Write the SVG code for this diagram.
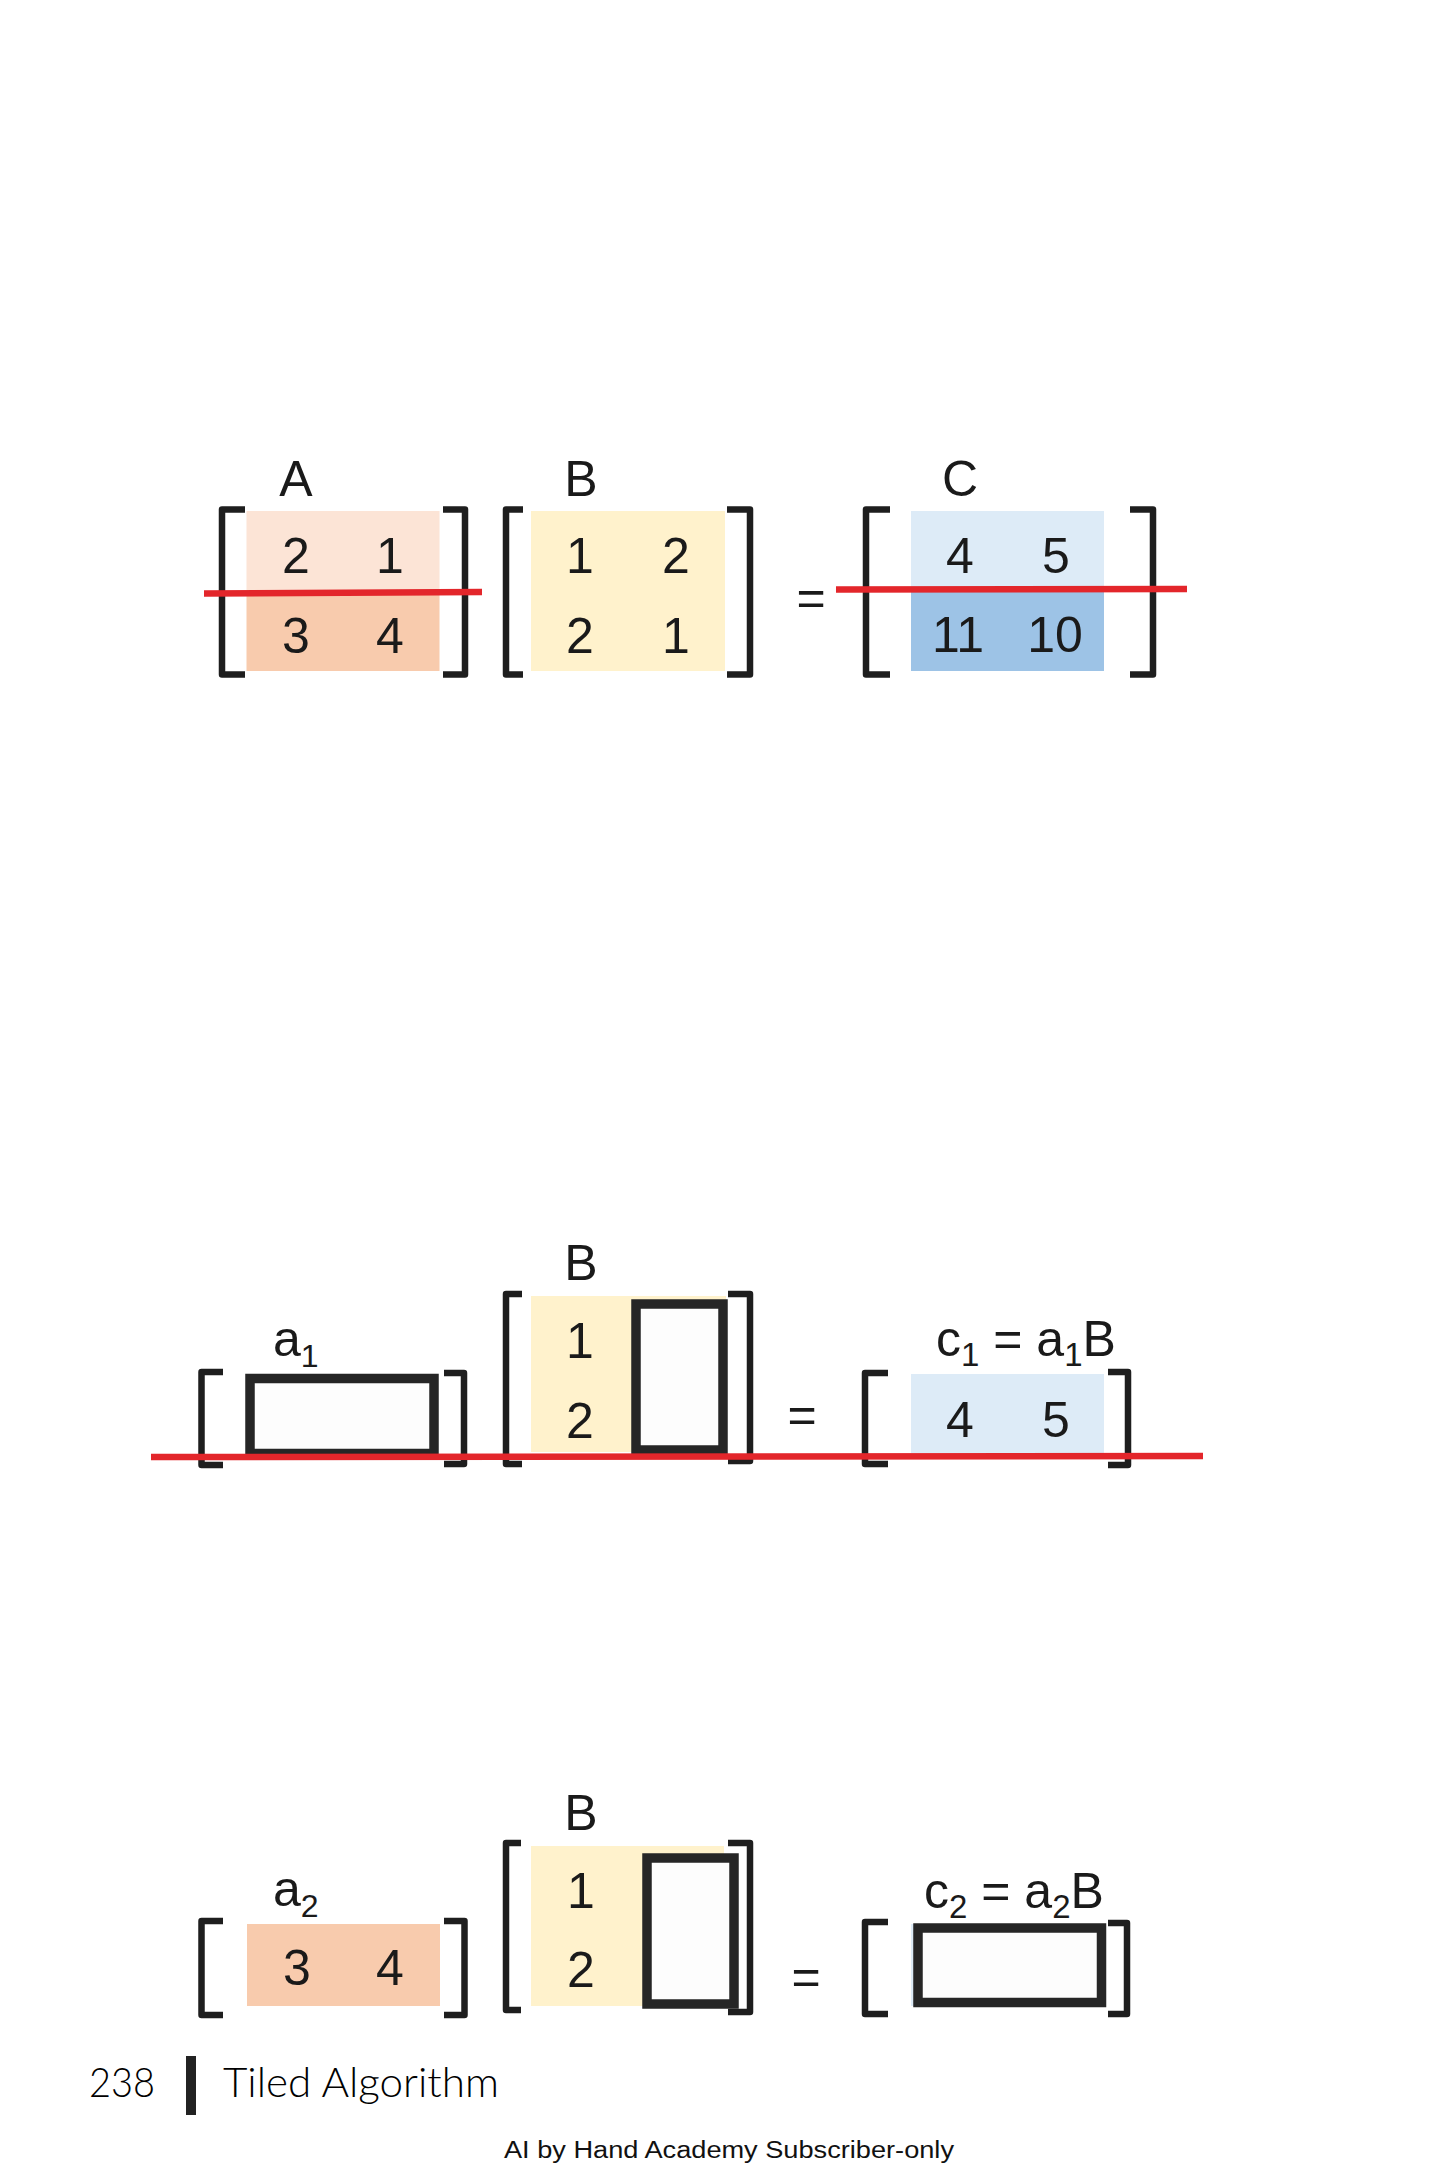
<svg xmlns="http://www.w3.org/2000/svg" width="1456" height="2184" viewBox="0 0 1456 2184">
<style>
.br{fill:none;stroke:#1e1e1e;stroke-width:6.5;stroke-linejoin:round;stroke-linecap:butt}
.num{font-family:"Liberation Sans",Arial,sans-serif;font-size:50px;fill:#1a1a1a;text-anchor:middle}
.lbl{font-family:"Liberation Sans",Arial,sans-serif;font-size:50px;fill:#1a1a1a;text-anchor:middle}
.vec{font-family:"Liberation Sans",Arial,sans-serif;font-size:50px;fill:#1a1a1a}
.box{fill:#fdfdfd;stroke:#262626;stroke-width:9.5}
.red{stroke:#e3262b;stroke-width:6.5;fill:none}
.foot{font-family:Lato,"Open Sans",sans-serif;font-weight:300;font-size:42px;fill:#000}
</style>
<rect width="1456" height="2184" fill="#ffffff"/>

<!-- Section 1 -->
<g id="matA">
<rect x="246.5" y="511" width="193" height="79.5" fill="#fce4d6"/>
<rect x="246.5" y="590.5" width="193" height="80.5" fill="#f8cbad"/>
<path class="br" d="M245,509.5 H222 V674.5 H245"/>
<path class="br" d="M443,509.5 H465 V674.5 H443"/>
<text class="lbl" x="296" y="496">A</text>
<text class="num" x="296" y="573">2</text>
<text class="num" x="390" y="573">1</text>
<text class="num" x="296" y="653">3</text>
<text class="num" x="390" y="653">4</text>
</g>
<g id="matB1">
<rect x="531" y="511" width="194" height="160" fill="#fff2cc"/>
<path class="br" d="M523,509.5 H506 V674.5 H523"/>
<path class="br" d="M727,509.5 H750 V674.5 H727"/>
<text class="lbl" x="581" y="496">B</text>
<text class="num" x="580" y="573">1</text>
<text class="num" x="676" y="573">2</text>
<text class="num" x="580" y="653">2</text>
<text class="num" x="676" y="653">1</text>
</g>
<g id="eq1"><text class="num" x="811" y="615">=</text></g>
<g id="matC">
<rect x="911" y="511" width="193" height="78" fill="#ddebf7"/>
<rect x="911" y="589" width="193" height="82" fill="#9dc3e6"/>
<path class="br" d="M890,509.5 H866 V674.5 H890"/>
<path class="br" d="M1130,509.5 H1153 V674.5 H1130"/>
<text class="lbl" x="960" y="496">C</text>
<text class="num" x="960" y="573">4</text>
<text class="num" x="1056" y="573">5</text>
<text class="num" x="958" y="652">11</text>
<text class="num" x="1055" y="652">10</text>
</g>

<!-- Section 2 -->
<g id="vecA1">
<path class="br" d="M223,1372 H201.5 V1465 H223"/>
<path class="br" d="M444,1373 H464 V1464 H444"/>
<rect class="box" x="250" y="1378.5" width="184" height="75"/>
<text class="vec" x="273" y="1356" font-size="48">a<tspan font-size="32" dy="11">1</tspan></text>
</g>
<g id="matB2">
<rect x="531" y="1296" width="195" height="156" fill="#fff2cc"/>
<path class="br" d="M522,1294 H506 V1464 H522"/>
<path class="br" d="M728,1294 H750 V1461 H728"/>
<rect class="box" x="636" y="1304" width="87" height="146" stroke-width="10"/>
<text class="lbl" x="581" y="1280">B</text>
<text class="num" x="580" y="1358">1</text>
<text class="num" x="580" y="1438">2</text>
</g>
<g id="eq2"><text class="num" x="802" y="1432">=</text></g>
<g id="vecC1">
<rect x="911" y="1374" width="193" height="79" fill="#ddebf7"/>
<path class="br" d="M888,1373 H865 V1464 H888"/>
<path class="br" d="M1108,1372 H1128 V1465 H1108"/>
<text class="vec" x="936" y="1356">c<tspan font-size="33" dy="10">1</tspan><tspan dy="-10"> = a</tspan><tspan font-size="33" dy="10">1</tspan><tspan dy="-10">B</tspan></text>
<text class="num" x="960" y="1437">4</text>
<text class="num" x="1056" y="1437">5</text>
</g>

<!-- Section 3 -->
<g id="vecA2">
<rect x="247" y="1924" width="193" height="82" fill="#f8cbad"/>
<path class="br" d="M223,1921 H201.5 V2015 H223"/>
<path class="br" d="M444,1921 H464.5 V2015 H444"/>
<text class="vec" x="273" y="1906" font-size="48">a<tspan font-size="32" dy="11">2</tspan></text>
<text class="num" x="297" y="1985">3</text>
<text class="num" x="390" y="1985">4</text>
</g>
<g id="matB3">
<rect x="531" y="1846" width="193" height="160" fill="#fff2cc"/>
<path class="br" d="M521,1843 H506 V2010 H521"/>
<path class="br" d="M728,1843 H750 V2012 H728"/>
<rect class="box" x="647" y="1858" width="87" height="146" stroke-width="10"/>
<text class="lbl" x="581" y="1830">B</text>
<text class="num" x="581" y="1908">1</text>
<text class="num" x="581" y="1987">2</text>
</g>
<g id="eq3"><text class="num" x="806" y="1994">=</text></g>
<g id="vecC2">
<rect x="911" y="1924" width="20" height="82" fill="#ddebf7"/>
<path class="br" d="M888,1922 H865 V2014 H888"/>
<path class="br" d="M1108,1923 H1127 V2014 H1108"/>
<rect class="box" x="918" y="1928" width="183.5" height="74.5"/>
<text class="vec" x="924" y="1908">c<tspan font-size="33" dy="10">2</tspan><tspan dy="-10"> = a</tspan><tspan font-size="33" dy="10">2</tspan><tspan dy="-10">B</tspan></text>
</g>

<!-- Connectors (red cut lines) -->
<g id="connectors">
<line class="red" x1="204" y1="593.5" x2="482" y2="592"/>
<line class="red" x1="836" y1="589.5" x2="1187" y2="589"/>
<line class="red" x1="151" y1="1457" x2="1203" y2="1456"/>
</g>

<!-- Footer -->
<g id="footer">
<text class="foot" x="89" y="2097" textLength="66" lengthAdjust="spacingAndGlyphs">238</text>
<rect x="186" y="2056" width="10" height="59" fill="#222"/>
<text class="foot" x="223" y="2097" textLength="276" lengthAdjust="spacingAndGlyphs">Tiled Algorithm</text>
<text x="504" y="2158" font-family="'Liberation Sans Narrow','Liberation Sans',Arial,sans-serif" font-size="23" fill="#111" textLength="450" lengthAdjust="spacingAndGlyphs">AI by Hand Academy Subscriber-only</text>
</g>
</svg>
